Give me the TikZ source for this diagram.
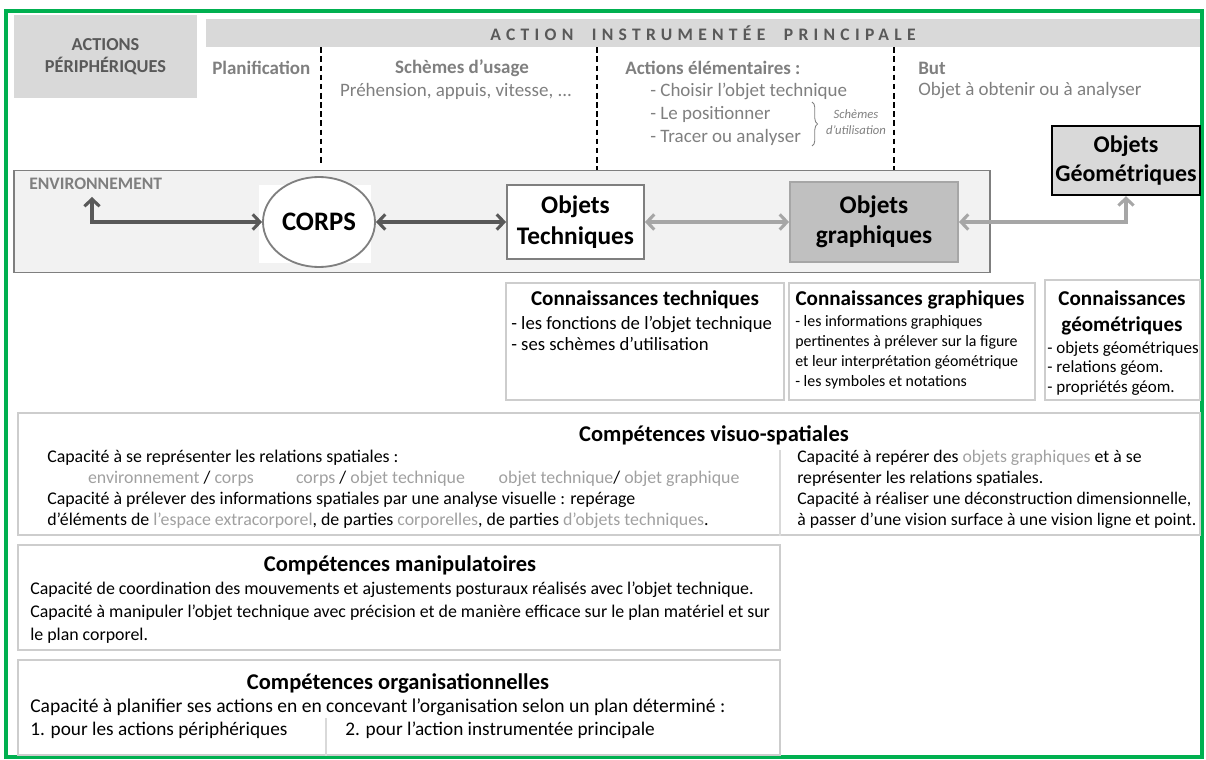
\documentclass[tikz,border=0pt]{standalone}
\usepackage{fontspec}
\setmainfont{Carlito}
\usetikzlibrary{arrows.meta,shapes.geometric,decorations.pathreplacing}

\definecolor{cadrevert}{HTML}{00B050}
\definecolor{grisfonce}{HTML}{595959}
\definecolor{grismoyen}{HTML}{7F7F7F}
\definecolor{grisclair}{HTML}{A6A6A6}
\definecolor{grisfond}{HTML}{D9D9D9}
\definecolor{grisenv}{HTML}{F2F2F2}
\definecolor{grisgraph}{HTML}{C0C0C0}
\definecolor{grisbord}{HTML}{CDCDCD}
\definecolor{motpale}{HTML}{A0A0A0}

\newcommand{\taille}[2]{\fontsize{#1}{#2}\selectfont}
\newcommand{\pale}[1]{\textcolor{motpale}{#1}}

\begin{document}
\begin{tikzpicture}[x=0.025cm, y=-0.025cm]
    \tikzstyle{bandeau} = [fill=grisfond, text=grisfonce, inner sep=0pt, align=center]
    \tikzstyle{entete} = [text=grismoyen, inner sep=0pt, font=\bfseries\taille{13.5}{16}]
    \tikzstyle{detail} = [text=grismoyen, inner sep=0pt, anchor=west, font=\taille{13.5}{16}]
    \tikzstyle{separation} = [dashed, line width=1pt, dash pattern=on 4pt off 2.5pt]
    \tikzstyle{objet} = [rectangle, line width=1.3pt, inner sep=0pt, align=center, font=\bfseries\taille{18}{21.5}]
    \tikzstyle{flechefonce} = [draw=grisfonce, line width=2.2pt, <->, >={Straight Barb[length=1.8mm,width=3.8mm]}]
    \tikzstyle{flecheclaire} = [draw=grisclair, line width=2.2pt, <->, >={Straight Barb[length=1.8mm,width=3.8mm]}]
    \tikzstyle{case} = [draw=grisbord, line width=1.1pt, inner sep=0pt]
    \tikzstyle{titre} = [inner sep=0pt, font=\bfseries\taille{16}{19}]
    \tikzstyle{texte} = [inner sep=0pt, anchor=north west, align=left]

    \useasboundingbox (0,0) rectangle (1206,760);
    \draw[cadrevert, line width=2.2pt] (6,11) rectangle (1202,757);

    \node[bandeau, minimum width=4.575cm, minimum height=2.05cm, font=\bfseries\taille{13}{16}] (periph) at (105.5,56.5) {ACTIONS\\PÉRIPHÉRIQUES};
    \node[bandeau, minimum width=24.825cm, minimum height=0.7cm, font=\bfseries\taille{12.5}{14}\addfontfeature{LetterSpace=30}] (principale) at (703,33) {ACTION\ \ INSTRUMENTÉE\ \ PRINCIPALE};

    \node[entete, anchor=west] (planif) at (212,68) {Planification};
    \node[entete] (usage) at (462,68) {Schèmes d’usage};
    \node[detail, anchor=center] (prehension) at (456,91) {Préhension, appuis, vitesse, ...};
    \node[entete, anchor=west] (elementaires) at (625,68) {Actions élémentaires :};
    \node[detail] (choisir) at (650,91) {- Choisir l’objet technique};
    \node[detail] (positionner) at (650,114) {- Le positionner};
    \node[detail] (tracer) at (650,137) {- Tracer ou analyser};
    \node[text=grismoyen, inner sep=0pt, align=center, font=\itshape\taille{9}{11}] (utilisation) at (856,122) {Schèmes\\d’utilisation};
    \node[entete, anchor=west] (but) at (918,68) {But};
    \node[detail] (obtenir) at (918,91) {Objet à obtenir ou à analyser};
    \draw[grismoyen, line width=0.6pt, decorate, decoration={brace, amplitude=4pt}] (812,102) -- (812,146);

    \node[draw=grismoyen, fill=grisenv, line width=1.3pt, minimum width=24.4cm, minimum height=2.55cm, inner sep=0pt] (environnement) at (502,221.5) {};
    \node[text=grismoyen, anchor=west, inner sep=0pt, font=\bfseries\taille{12.5}{14}] (envtexte) at (29,184) {ENVIRONNEMENT};
    \coordinate (envfleche) at (92,197);
    \coordinate (pointill1) at (321,0);
    \coordinate (pointill2) at (597,0);
    \coordinate (pointill3) at (894,0);
    \draw[separation] (principale.south -| pointill1) -- ([yshift=0.12cm]environnement.north -| pointill1);
    \draw[separation] (principale.south -| pointill2) -- (environnement.north -| pointill2);
    \draw[separation] (principale.south -| pointill3) -- (environnement.north -| pointill3);

    \fill[white] (259,185) rectangle (371,263);
    \node[ellipse, draw=grismoyen, fill=white, line width=1.3pt, minimum width=2.8cm, minimum height=2.25cm, inner sep=0pt, font=\bfseries\taille{19}{22}] (corps) at (319,222) {CORPS};
    \node[objet, draw=grismoyen, fill=white, minimum width=3.425cm, minimum height=1.85cm] (techniques) at (575.5,222) {Objets\\Techniques};
    \node[objet, draw=grisclair, fill=grisgraph, minimum width=4.2cm, minimum height=2cm] (graphiques) at (874,222) {Objets\\graphiques};
    \node[objet, draw=black, fill=grisfond, line width=1.7pt, minimum width=3.7cm, minimum height=1.725cm, font=\bfseries\taille{17}{20.5}] (geometriques) at (1126,160.5) {Objets\\Géométriques};

    \draw[flechefonce] (envfleche) |- (corps);
    \draw[flechefonce] (corps) -- (techniques);
    \draw[flecheclaire] (techniques) -- (graphiques);
    \draw[flecheclaire] (graphiques) -| (geometriques);

    \node[case, minimum width=6.95cm, minimum height=2.925cm] (ctech) at (645,341.5) {};
    \node[titre, font=\bfseries\taille{15}{18}] (ctechtitre) at (645,300) {Connaissances techniques};
    \node[texte, font=\taille{13.3}{15}] (ctechtexte) at (511,316) {- les fonctions de l’objet technique\\- ses schèmes d’utilisation};

    \node[case, minimum width=6.15cm, minimum height=2.925cm] (cgraph) at (912,341.5) {};
    \node[titre, font=\bfseries\taille{15}{18}] (cgraphtitre) at (910,300) {Connaissances graphiques};
    \node[texte, font=\taille{11.3}{14.3}] (cgraphtexte) at (795,315) {- les informations graphiques\\pertinentes à prélever sur la figure\\et leur interprétation géométrique\\- les symboles et notations};

    \node[case, minimum width=3.875cm, minimum height=3cm] (cgeo) at (1122.5,340) {};
    \node[titre, align=center, font=\bfseries\taille{15}{18.5}] (cgeotitre) at (1122,313) {Connaissances\\géométriques};
    \node[texte, font=\taille{12.1}{14}] (cgeotexte) at (1047,341) {- objets géométriques\\- relations géom.\\- propriétés géom.};

    \node[case, minimum width=29.55cm, minimum height=3.05cm] (visuo) at (609,474) {};
    \node[titre] (visuotitre) at (714,435) {Compétences visuo-spatiales};
    \node[texte, font=\taille{12.7}{15}] (visuogauche) at (47,450) {Capacité à se représenter les relations spatiales :\\
      \hspace*{29pt}\pale{environnement} / \pale{corps}\hspace{30pt}\pale{corps} / \pale{objet technique}\hspace{24pt}\pale{objet technique}/ \pale{objet graphique}\\
      Capacité à prélever des informations spatiales par une analyse visuelle : repérage\\
      d’éléments de \pale{l’espace extracorporel}, de parties \pale{corporelles}, de parties \pale{d’objets techniques}.};
    \node[texte, font=\taille{12.6}{15}] (visuodroite) at (797,450) {Capacité à repérer des \pale{objets graphiques} et à se\\représenter les relations spatiales.\\Capacité à réaliser une déconstruction dimensionnelle,\\à passer d’une vision surface à une vision ligne et point.};
    \draw[grisfond, line width=1.4pt] (visuogauche.north east -| 780,0) -- (visuo.south -| 780,0);

    \node[case, minimum width=19.05cm, minimum height=2.625cm] (manip) at (399,597.5) {};
    \node[titre] (maniptitre) at (400,565) {Compétences manipulatoires};
    \node[texte, font=\taille{12.7}{16.4}] (maniptexte) at (30,582) {Capacité de coordination des mouvements et ajustements posturaux réalisés avec l’objet technique.\\Capacité à manipuler l’objet technique avec précision et de manière efficace sur le plan matériel et sur\\le plan corporel.};

    \node[case, minimum width=19.05cm, minimum height=2.375cm] (organ) at (399,707.5) {};
    \node[titre] (organtitre) at (398,683) {Compétences organisationnelles};
    \node[texte, font=\taille{13.9}{16.4}] (organtexte) at (30,698) {Capacité à planifier ses actions en en concevant l’organisation selon un plan déterminé :};
    \node[inner sep=0pt, anchor=west, font=\taille{13.7}{16.4}] (organperiph) at (30,730) {1. pour les actions périphériques};
    \node[inner sep=0pt, anchor=west, font=\taille{13.7}{16.4}] (organprinc) at (345,730) {2. pour l’action instrumentée principale};
    \draw[grisfond, line width=1.4pt] (326,718) -- (organ.south -| 326,0);
\end{tikzpicture}
\end{document}
